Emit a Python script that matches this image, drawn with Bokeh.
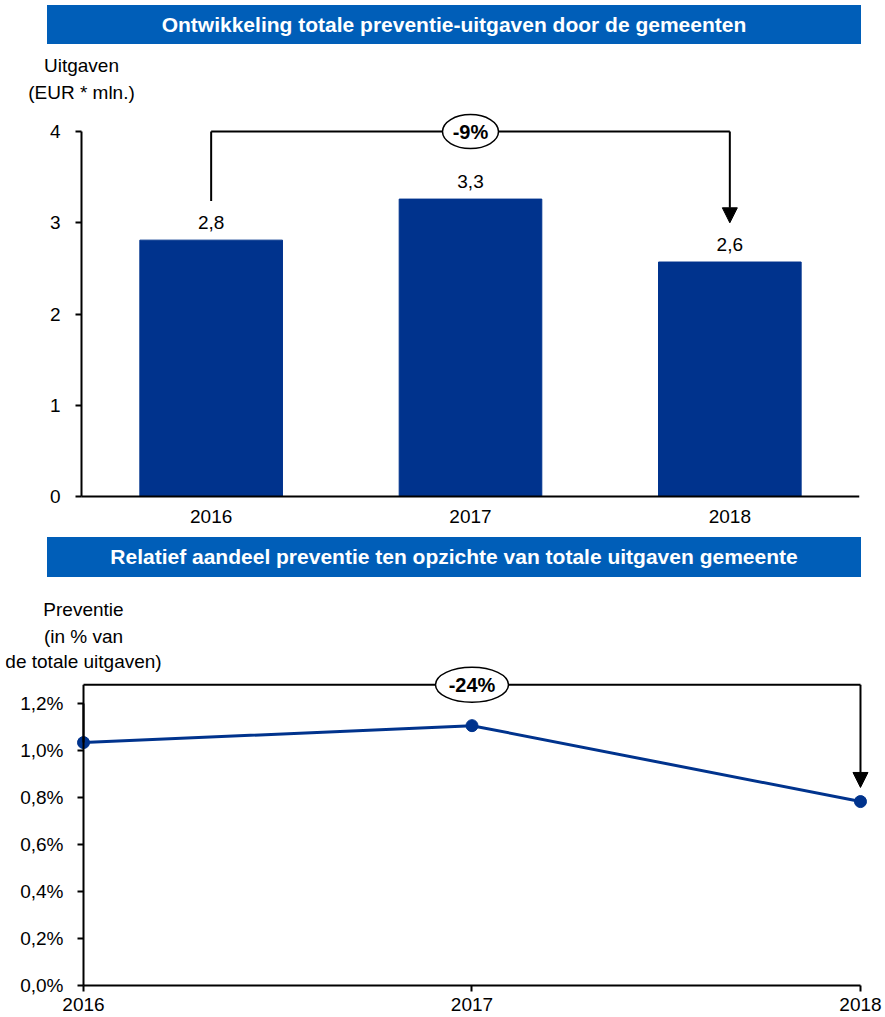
from bokeh.plotting import figure
from bokeh.layouts import column
from bokeh.models import (Range1d, FixedTicker, CustomJSTickFormatter,
                          Label, Arrow, NormalHead, Div)
from bokeh.core.properties import value
from bokeh.embed import file_html
from bokeh.resources import INLINE

# ---------------- data ----------------
title_top = "Ontwikkeling totale preventie-uitgaven door de gemeenten"
title_bottom = "Relatief aandeel preventie ten opzichte van totale uitgaven gemeente"

years = ["2016", "2017", "2018"]
spending = [2.81, 3.26, 2.57]            # EUR mln
spending_labels = ["2,8", "3,3", "2,6"]
bar_ticks = [0, 1, 2, 3, 4]
ylabel_top = ["Uitgaven", "(EUR * mln.)"]

share_years = [2016, 2017, 2018]
share_pct = [1.034, 1.106, 0.783]        # % of total spending
share_ticks = [0.0, 0.2, 0.4, 0.6, 0.8, 1.0, 1.2]
ylabel_bottom = ["Preventie", "(in % van", "de totale uitgaven)"]

change_top = "%d%%" % round((spending[-1] / spending[0] - 1) * 100)
change_bottom = "%d%%" % round((share_pct[-1] / share_pct[0] - 1) * 100)

# ---------------- style ----------------
FONT = "Liberation Sans"
BAR = "#00338D"
BANNER = "#005EB8"
FS = "19px"


def banner(text, h, top):
    return Div(text=text, width=814, height=h, margin=(top, 0, 0, 47),
               styles={"background-color": BANNER, "color": "white",
                       "font-family": FONT, "font-weight": "bold",
                       "font-size": "21px", "text-align": "center",
                       "line-height": f"{h}px", "white-space": "nowrap",
                       "overflow": "hidden"})


def style_axis(ax, tick_out, standoff, width=2):
    ax.axis_line_width = width
    ax.axis_line_color = "black"
    ax.major_tick_line_width = width
    ax.major_tick_line_color = "black"
    ax.major_tick_out = tick_out
    ax.major_tick_in = 0
    ax.minor_tick_line_color = None
    ax.major_label_standoff = standoff
    ax.major_label_text_font = FONT
    ax.major_label_text_font_size = FS
    ax.major_label_text_color = "black"


# ---------------- bar chart ----------------
xs = [i + 0.5 for i in range(len(years))]     # category slots on the x scale
p1 = figure(x_range=Range1d(-0.293, len(years)), y_range=Range1d(-0.45, 4.9),
            frame_width=854, frame_height=488,
            min_border_left=5, min_border_right=26,
            min_border_top=5, min_border_bottom=0,
            output_backend="svg", toolbar_location=None,
            outline_line_color=None)
p1.grid.visible = False
p1.vbar(x=xs, top=spending, width=0.55, color=BAR)
p1.text(x=xs, y=spending, text=spending_labels, text_align="center",
        text_baseline="middle", y_offset=-18, text_font=value(FONT),
        text_font_size=FS, text_color="black")

style_axis(p1.xaxis[0], 0, 14)
p1.xaxis.ticker = FixedTicker(ticks=xs)
p1.xaxis.major_label_overrides = dict(zip(xs, years))
p1.xaxis.bounds = (0, len(years))
p1.xaxis.fixed_location = 0
style_axis(p1.yaxis[0], 6, 15)
p1.yaxis.ticker = FixedTicker(ticks=bar_ticks)
p1.yaxis.bounds = (bar_ticks[0], bar_ticks[-1])
p1.yaxis.fixed_location = 0
p1.yaxis.formatter = CustomJSTickFormatter(code="return tick.toFixed(0);")

top1 = bar_ticks[-1]
p1.segment(x0=[xs[0], xs[0]], y0=[spending[0] + 0.43, top1],
           x1=[xs[0], xs[-1]], y1=[top1, top1],
           line_color="black", line_width=2)
p1.add_layout(Arrow(end=NormalHead(size=15, fill_color="black", line_color="black"),
                    x_start=xs[-1], y_start=top1,
                    x_end=xs[-1], y_end=spending[-1] + 0.43,
                    line_color="black", line_width=2))
p1.ellipse(x=[xs[1]], y=[top1], width=56, height=34,
           width_units="screen", height_units="screen",
           fill_color="white", line_color="black", line_width=1.5)
p1.text(x=[xs[1]], y=[top1], text=[change_top], text_align="center",
        text_baseline="middle", text_font=value(FONT), text_font_size="20px",
        text_font_style="bold", text_color="black")

for txt, yy in zip(ylabel_top, [4.725, 4.43]):
    p1.add_layout(Label(x=0, y=yy, text=txt, text_align="center",
                        text_baseline="middle", text_font=FONT,
                        text_font_size=FS, text_color="black"))

# ---------------- line chart ----------------
p2 = figure(x_range=Range1d(share_years[0] - 0.2008, share_years[-1] + 0.0644),
            y_range=Range1d(-0.136, 1.66),
            frame_width=880, frame_height=422,
            min_border_left=5, min_border_right=0,
            min_border_top=18, min_border_bottom=0,
            output_backend="svg", toolbar_location=None,
            outline_line_color=None)
p2.grid.visible = False
p2.line(share_years, share_pct, line_width=3, color=BAR)
p2.scatter(share_years, share_pct, size=12, color=BAR)

style_axis(p2.xaxis[0], 6, 6)
style_axis(p2.yaxis[0], 6, 14)
p2.xaxis.ticker = FixedTicker(ticks=share_years)
p2.xaxis.bounds = (share_years[0], share_years[-1])
p2.xaxis.fixed_location = 0
p2.xaxis.formatter = CustomJSTickFormatter(code="return tick.toFixed(0);")
p2.yaxis.ticker = FixedTicker(ticks=share_ticks)
p2.yaxis.bounds = (share_ticks[0], share_ticks[-1])
p2.yaxis.fixed_location = share_years[0]
p2.yaxis.formatter = CustomJSTickFormatter(
    code="return tick.toFixed(1).replace('.', ',') + '%';")

top2 = 1.28
p2.segment(x0=[share_years[0], share_years[0]], y0=[share_pct[0], top2],
           x1=[share_years[0], share_years[-1]], y1=[top2, top2],
           line_color="black", line_width=2)
p2.add_layout(Arrow(end=NormalHead(size=15, fill_color="black", line_color="black"),
                    x_start=share_years[-1], y_start=top2,
                    x_end=share_years[-1], y_end=share_pct[-1] + 0.06,
                    line_color="black", line_width=2))
p2.ellipse(x=[share_years[1]], y=[top2], width=73, height=35,
           width_units="screen", height_units="screen",
           fill_color="white", line_color="black", line_width=1.5)
p2.text(x=[share_years[1]], y=[top2], text=[change_bottom], text_align="center",
        text_baseline="middle", text_font=value(FONT), text_font_size="20px",
        text_font_style="bold", text_color="black")

for txt, yy in zip(ylabel_bottom, [1.6, 1.485, 1.379]):
    p2.add_layout(Label(x=share_years[0], y=yy, text=txt, text_align="center",
                        text_baseline="middle", text_font=FONT,
                        text_font_size=FS, text_color="black"))

layout = column(banner(title_top, 39, 5), p1, banner(title_bottom, 40, 0), p2,
                spacing=0)

with open("out.html", "w") as f:
    f.write(file_html(layout, INLINE, title="Preventie-uitgaven gemeenten"))
